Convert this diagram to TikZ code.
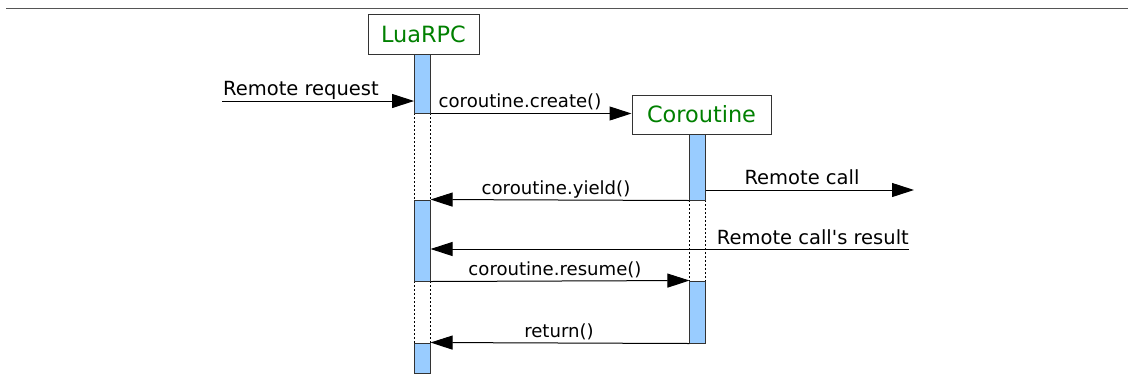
\documentclass[tikz,border=0pt]{standalone}
\usepackage{fontspec}
\setmainfont{DejaVu Sans}
\usetikzlibrary{arrows.meta}
\definecolor{lblgreen}{RGB}{0,128,0}
\definecolor{barblue}{RGB}{153,204,255}
\definecolor{boxgray}{RGB}{51,51,51}
\definecolor{rulegray}{RGB}{85,85,85}
\tikzset{
  objbox/.style={draw=boxgray, line width=1pt, fill=white, inner sep=0pt, text=lblgreen, font=\fontsize{22.4}{26}\selectfont},
  actbar/.style={draw=boxgray, line width=1pt, fill=barblue, inner sep=0pt, minimum width=15.5pt},
  msg/.style={line width=1pt, -{Triangle[length=22pt,width=14pt]}},
  lifeline/.style={line width=0.9pt, dash pattern=on 2pt off 2pt},
  msglabel/.style={inner sep=0pt, font=\fontsize{18.1}{22}\selectfont},
  extlabel/.style={inner sep=0pt, font=\fontsize{19.5}{23}\selectfont},
}
\begin{document}
\begin{tikzpicture}[x=1pt,y=-1pt]
\useasboundingbox (0,0) rectangle (1128,376);
\draw[line width=1.5pt, draw=rulegray] (6,8.5) -- (1128,8.5);
% object boxes
\node[objbox, minimum width=111pt, minimum height=40pt] (lua) at (423.5,34) {LuaRPC};
\node[objbox, minimum width=139pt, minimum height=39pt] (co) at (701.5,114.5) {Coroutine};
% LuaRPC lifeline
\draw[lifeline] (414.5,113) -- (414.5,343);
\draw[lifeline] (430,113) -- (430,343);
% Coroutine lifeline
\draw[lifeline] (689.7,200) -- (689.7,281);
\draw[lifeline] (705.7,200) -- (705.7,281);
% activation bars
\node[actbar, minimum height=59pt] (l1) at (422.3,83.5) {};
\node[actbar, minimum height=81pt] (l2) at (422.3,240.5) {};
\node[actbar, minimum height=30pt] (l3) at (422.3,358) {};
\node[actbar, minimum height=66pt] (c1) at (697.7,167) {};
\node[actbar, minimum height=62pt] (c2) at (697.7,312) {};
% free ends
\coordinate (reqstart) at (222,101);
\coordinate (callend) at (914,190);
\coordinate (resstart) at (909,249);
% messages
\draw[msg] (reqstart) -- (reqstart -| l1.west);
\node[extlabel, anchor=base west] (lreq) at (223,95) {Remote request};
\draw[msg] (l1.south east) -- (co.west |- l1.south east);
\node[msglabel, anchor=base] (lcreate) at (520,107.5) {coroutine.create()};
\draw[msg] (c1.south west) -- (l2.north east);
\node[msglabel, anchor=base] (lyield) at (556,194) {coroutine.yield()};
\draw[msg] (c1.east |- callend) -- (callend);
\node[extlabel, anchor=base] (lcall) at (802,184) {Remote call};
\draw[msg] (resstart) -- (resstart -| l2.east);
\node[extlabel, anchor=base east] (lres) at (909,244) {Remote call\textquotesingle s result};
\draw[msg] (l2.south east) -- (c2.north west);
\node[msglabel, anchor=base] (lresume) at (555,275.5) {coroutine.resume()};
\draw[msg] (c2.south west) -- (l3.north east);
\node[msglabel, anchor=base] (lret) at (559,337) {return()};
\end{tikzpicture}
\end{document}
